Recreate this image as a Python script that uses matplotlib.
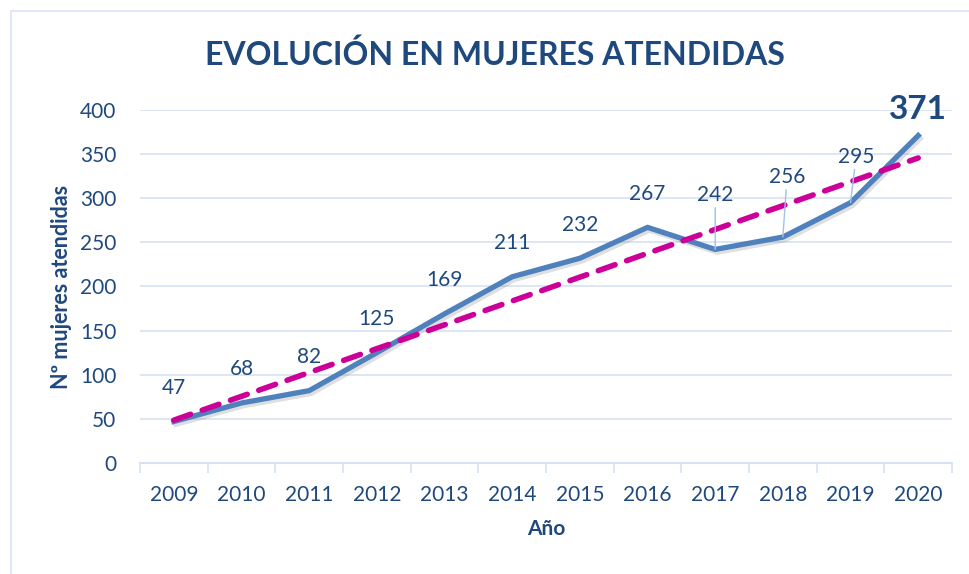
import numpy as np
import matplotlib.pyplot as plt
import matplotlib.patheffects as pe
from matplotlib.patches import Rectangle

years = ["2009", "2010", "2011", "2012", "2013", "2014",
         "2015", "2016", "2017", "2018", "2019", "2020"]
mujeres = [47, 68, 82, 125, 169, 211, 232, 267, 242, 256, 295, 371]

DARK = "#1F497D"
LINE = "#4F81BD"
TREND = "#CC0099"
GRID = "#D6E2F2"

plt.rcParams["font.family"] = ["Lato", "DejaVu Sans"]

fig = plt.figure(figsize=(9.69, 5.74), dpi=100)
fig.patches.append(Rectangle((0.011, -0.01), 1.0, 0.99, transform=fig.transFigure,
                             fill=False, edgecolor="#D9E4F2", linewidth=1.2))
ax = fig.add_axes([0.1445, 0.1934, 0.838, 0.615])

x = np.arange(len(years))
y = np.array(mujeres)

# linear trend line
coef = np.polyfit(x, y, 1)
trend = np.polyval(coef, x)

ax.plot(x, y, color=LINE, linewidth=3.8, solid_joinstyle="round", zorder=3,
        path_effects=[pe.SimpleLineShadow(offset=(1.5, -2), shadow_color="gray", alpha=0.25),
                      pe.Normal()])
ax.plot(x, trend, color=TREND, linewidth=4, linestyle=(0, (3.2, 2.2)),
        dash_capstyle="round", zorder=4)

# data labels
leader = {"2017": (0, 32), "2018": (3, 36), "2019": (4, 26)}
for xi, yi, yr in zip(x, y, years):
    if yr == "2020":
        ax.annotate(str(yi), (xi, yi), xytext=(0, 8), textcoords="offset points",
                    ha="center", va="bottom", fontsize=24, fontweight="bold", color=DARK, zorder=5)
    elif yr in leader:
        dx, dy = leader[yr]
        ax.annotate(str(yi), (xi, yi), xytext=(dx, dy), textcoords="offset points",
                    ha="center", va="bottom", fontsize=15, color=DARK, zorder=5,
                    arrowprops=dict(arrowstyle="-", color="#9DC3E6", lw=1,
                                    shrinkA=0, shrinkB=0))
    else:
        ax.annotate(str(yi), (xi, yi), xytext=(0, 17), textcoords="offset points",
                    ha="center", va="bottom", fontsize=15, color=DARK, zorder=5)

ax.set_xlim(-0.5, len(years) - 0.5)
ax.set_ylim(0, 400)
ax.set_yticks(np.arange(0, 401, 50))
ax.set_xticks(x)
ax.set_xticklabels(years)
ax.set_xticks(np.arange(-0.5, len(years), 1), minor=True)
ax.tick_params(axis="x", which="major", length=0, pad=16, labelsize=15, labelcolor=DARK)
ax.tick_params(axis="x", which="minor", length=7, width=1.2, color=GRID)
ax.tick_params(axis="y", length=0, pad=17, labelsize=15, labelcolor=DARK)

ax.grid(axis="y", color=GRID, linewidth=1.2)
ax.set_axisbelow(True)
for s in ["top", "right", "left"]:
    ax.spines[s].set_visible(False)
ax.spines["bottom"].set_color(GRID)
ax.spines["bottom"].set_linewidth(1.5)

ax.set_xlabel("Año", fontsize=15, fontweight="bold", color=DARK, labelpad=10)
ax.set_ylabel("Nº mujeres atendidas", fontsize=15.5, fontweight="bold", color=DARK, labelpad=6)
fig.text(0.511, 0.905, "EVOLUCIÓN EN MUJERES ATENDIDAS", ha="center", va="center",
         fontsize=23, fontweight="bold", color=DARK)

fig.savefig("out.png", dpi=100)
